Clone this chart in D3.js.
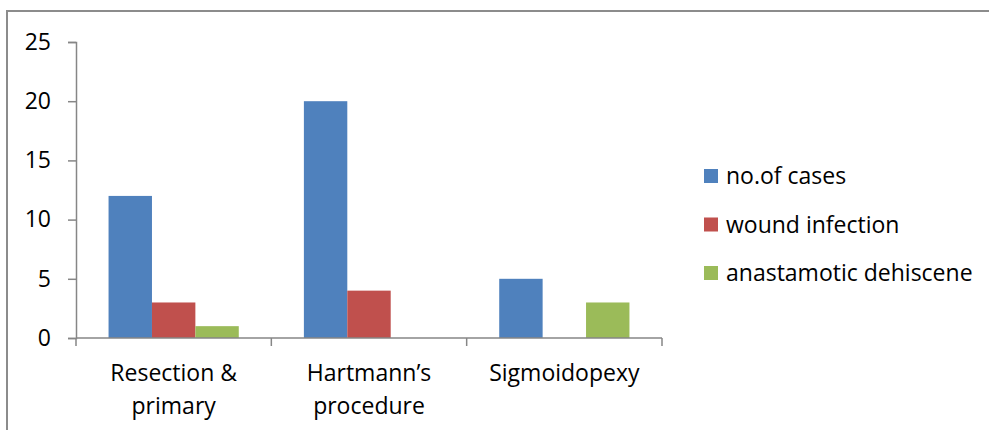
<!DOCTYPE html>
<html>
<head>
<meta charset="utf-8">
<script src="https://cdn.jsdelivr.net/npm/d3@7"></script>
<style>
  body { margin: 0; background: #fff; }
  svg { display: block; }
  text { font-family: "Open Sans", sans-serif; fill: #000; }
</style>
</head>
<body>
<svg id="chart" width="989" height="430"></svg>
<script>
const categories = [["Resection &", "primary"], ["Hartmann\u2019s", "procedure"], ["Sigmoidopexy"]];
const series = ["no.of cases", "wound infection", "anastamotic dehiscene"];
const cases = [12, 20, 5];
const woundInfection = [3, 4, 0];
const dehiscence = [1, 0, 3];
const yTicks = [0, 5, 10, 15, 20, 25];
const colors = ["#4F81BD", "#C0504D", "#9BBB59"];

const fontSize = "23px";
const svg = d3.select("#chart");
const margin = {left: 76, top: 42, right: 327, bottom: 92};
const width = 989 - margin.left - margin.right;
const height = 430 - margin.top - margin.bottom;

// outer frame (runs off the right/bottom edge)
svg.append("rect")
    .attr("x", 7).attr("y", 11)
    .attr("width", 1000).attr("height", 440)
    .attr("fill", "none")
    .attr("stroke", "#8c8c8c")
    .attr("stroke-width", 2);

const g = svg.append("g").attr("transform", `translate(${margin.left},${margin.top})`);

const keys = categories.map((c, i) => i);
const x = d3.scaleBand().domain(keys).range([0, width]);
const x1 = d3.scaleBand().domain(series).range([0, x.bandwidth()]).paddingOuter(0.75).paddingInner(0);
const y = d3.scaleLinear().domain([0, 25]).range([height, 0]);

const values = [cases, woundInfection, dehiscence];
const rows = [];
keys.forEach(k => series.forEach((s, j) => rows.push({k, s, j, v: values[j][k]})));

g.selectAll("rect.bar")
    .data(rows.filter(d => d.v > 0))
    .enter().append("rect")
    .attr("class", "bar")
    .attr("x", d => x(d.k) + x1(d.s))
    .attr("y", d => y(d.v))
    .attr("width", x1.bandwidth())
    .attr("height", d => height - y(d.v))
    .attr("fill", d => colors[d.j]);

// y axis
const yAxis = g.append("g")
    .call(d3.axisLeft(y).tickValues(yTicks).tickSize(8).tickPadding(17));
yAxis.select(".domain").attr("stroke", "#868686").attr("stroke-width", 1.5);
yAxis.selectAll(".tick line").attr("stroke", "#868686").attr("stroke-width", 1.5);
yAxis.selectAll("text").style("font-size", fontSize).attr("fill", "#000");

// x axis, ticks at category boundaries
const xAxis = g.append("g").attr("transform", `translate(0,${height})`);
xAxis.append("line")
    .attr("x1", 0).attr("x2", width)
    .attr("stroke", "#868686").attr("stroke-width", 1.5);
xAxis.selectAll("line.tk")
    .data(keys.concat([keys.length]))
    .enter().append("line")
    .attr("class", "tk")
    .attr("x1", d => d < keys.length ? x(d) : width)
    .attr("x2", d => d < keys.length ? x(d) : width)
    .attr("y1", 0).attr("y2", 8)
    .attr("stroke", "#868686").attr("stroke-width", 1.5);
xAxis.selectAll("text.cat")
    .data(keys)
    .enter().append("text")
    .attr("class", "cat")
    .attr("text-anchor", "middle")
    .style("font-size", fontSize)
    .attr("transform", d => `translate(${x(d) + x.bandwidth() / 2},0)`)
    .selectAll("tspan")
    .data(d => categories[d])
    .enter().append("tspan")
    .attr("x", 0)
    .attr("y", (d, i) => 43 + i * 33)
    .text(d => d);

// legend
const legend = svg.append("g").attr("transform", "translate(704,169)");
const item = legend.selectAll("g")
    .data(series)
    .enter().append("g")
    .attr("transform", (d, i) => `translate(0,${i * 48.5})`);
item.append("rect")
    .attr("width", 14).attr("height", 14)
    .attr("fill", (d, i) => colors[i]);
item.append("text")
    .attr("x", 22).attr("y", 7)
    .attr("dy", "0.35em")
    .style("font-size", fontSize)
    .text(d => d);
</script>
</body>
</html>
